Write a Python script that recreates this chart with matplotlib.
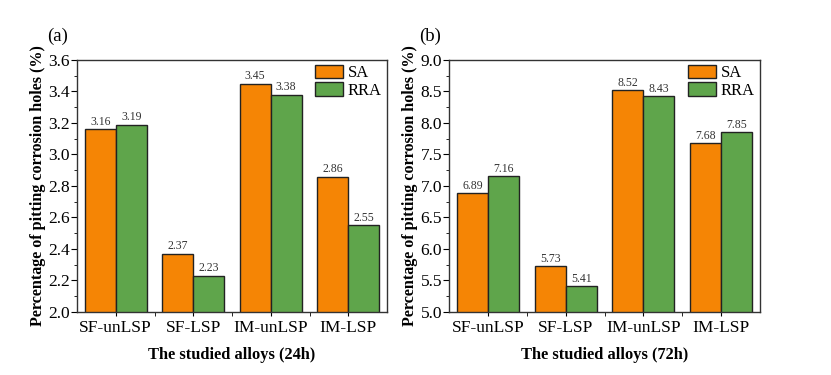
import numpy as np
import matplotlib.pyplot as plt
from matplotlib.ticker import MultipleLocator

plt.rcParams['font.family'] = ['Liberation Serif', 'DejaVu Serif']

alloys = ['SF-unLSP', 'SF-LSP', 'IM-unLSP', 'IM-LSP']
sa_24h = [3.16, 2.37, 3.45, 2.86]
rra_24h = [3.19, 2.23, 3.38, 2.55]
sa_72h = [6.89, 5.73, 8.52, 7.68]
rra_72h = [7.16, 5.41, 8.43, 7.85]

orange = '#F58505'
green = '#5FA54B'

fig = plt.figure(figsize=(8.31, 3.75), dpi=100)
ax_a = fig.add_axes([77 / 831, 1 - 312 / 375, 310 / 831, 252 / 375])
ax_b = fig.add_axes([449 / 831, 1 - 312 / 375, 311 / 831, 252 / 375])

panels = [
    (ax_a, sa_24h, rra_24h, (2.0, 3.6), 0.2, 0.1, '(a)', 'The studied alloys (24h)'),
    (ax_b, sa_72h, rra_72h, (5.0, 9.0), 0.5, 0.25, '(b)', 'The studied alloys (72h)'),
]

x = np.arange(len(alloys))
w = 0.4
for ax, sa, rra, ylim, major, minor, tag, xlabel in panels:
    b1 = ax.bar(x - w / 2, sa, w, color=orange, edgecolor='#222222', linewidth=1.0, label='SA')
    b2 = ax.bar(x + w / 2, rra, w, color=green, edgecolor='#222222', linewidth=1.0, label='RRA')
    for bars in (b1, b2):
        ax.bar_label(bars, fmt='%.2f', padding=1, fontsize=8.5, color='#333333')
    ax.set_xlim(-0.5, 3.5)
    ax.set_ylim(*ylim)
    ax.yaxis.set_major_locator(MultipleLocator(major))
    ax.yaxis.set_minor_locator(MultipleLocator(minor))
    ax.set_xticks(x)
    ax.set_xticklabels(alloys, fontsize=12.5)
    ax.set_xticks(x[:-1] + 0.5, minor=True)
    ax.tick_params(axis='y', labelsize=12.5, direction='out', length=4, pad=1)
    ax.tick_params(axis='y', which='minor', direction='out', length=2)
    ax.tick_params(axis='x', which='both', direction='out', length=3, pad=3)
    ax.set_yticklabels(['{:.1f}'.format(v) for v in ax.get_yticks()])
    ax.set_xlabel(xlabel, fontsize=11.8, fontweight='bold', labelpad=8)
    ax.set_ylabel('Percentage of pitting corrosion holes (%)', fontsize=11.6,
                  fontweight='bold', labelpad=2)
    for s in ax.spines.values():
        s.set_color('#333333')
        s.set_linewidth(1.0)
    ax.text(-0.097, 1.06, tag, transform=ax.transAxes, fontsize=13.5, ha='left', va='bottom')
    ax.legend(loc='upper right', frameon=False, fontsize=12, handlelength=1.7,
              handleheight=0.85, borderaxespad=0.1, borderpad=0.2,
              handletextpad=0.3, labelspacing=0.05)

fig.savefig('out.png', dpi=100)
